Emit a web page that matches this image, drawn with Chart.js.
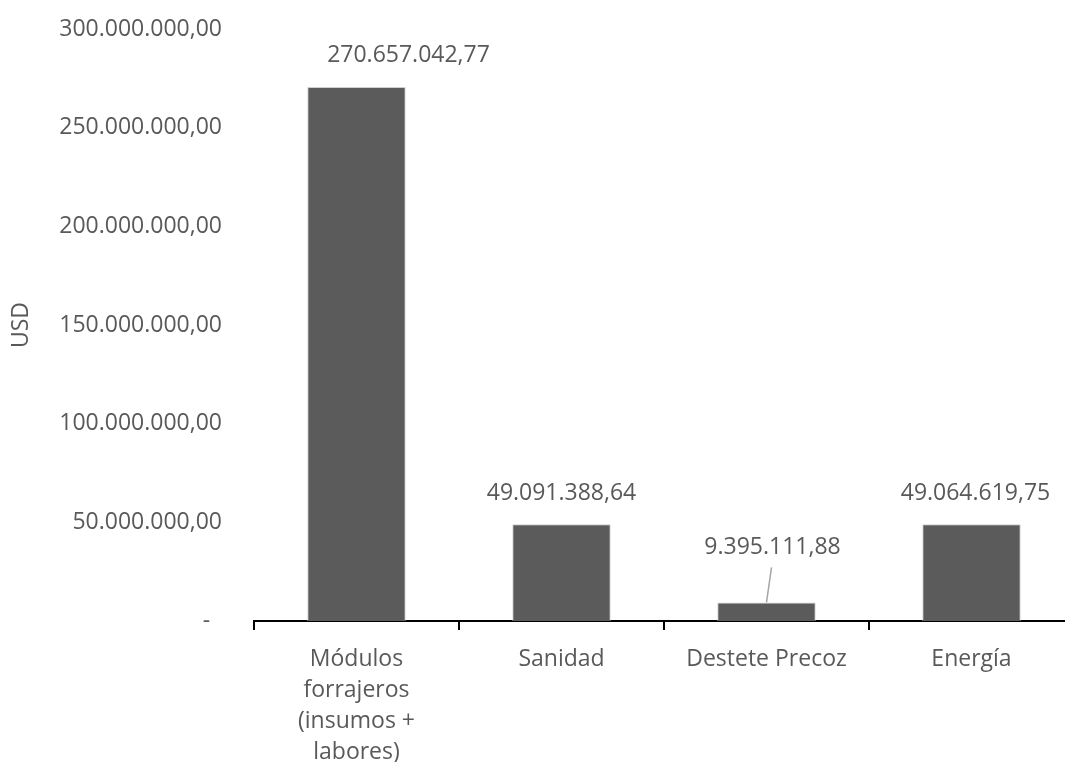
<!DOCTYPE html>
<html>
<head>
<meta charset="utf-8">
<script src="https://cdn.jsdelivr.net/npm/chart.js@4"></script>
<style>
  html, body { margin: 0; padding: 0; background: #fff; overflow: hidden; }
  #wrap { width: 1075px; height: 762px; }
</style>
</head>
<body>
<div id="wrap"><canvas id="costChart"></canvas></div>
<script>
// categories and values (USD)
const categories = [
    ['Módulos', 'forrajeros', '(insumos +', 'labores)'],
    'Sanidad',
    'Destete Precoz',
    'Energía'
];
const costs = [270657042.77, 49091388.64, 9395111.88, 49064619.75];
const yTicks = [0, 50000000, 100000000, 150000000, 200000000, 250000000, 300000000];

const textColor = '#595959';
const fontFamily = '"Open Sans", sans-serif';

// 1.234.567,89 style
function fmt(v) {
    const parts = v.toFixed(2).split('.');
    const intPart = parts[0].replace(/\B(?=(\d{3})+(?!\d))/g, '.');
    return intPart + ',' + parts[1];
}

// label placement tweaks, dx / dy in px (Excel had some labels moved by hand)
const labelNudge = [
    { dx: 52, dy: 0 },
    { dx: 0, dy: 0 },
    { dx: 6, dy: -24, leader: true },
    { dx: 4, dy: 0 }
];

const valueLabels = {
    id: 'valueLabels',
    afterDatasetsDraw(chart) {
        const ctx = chart.ctx;
        const meta = chart.getDatasetMeta(0);
        ctx.save();
        ctx.font = '23px ' + fontFamily;
        ctx.fillStyle = textColor;
        ctx.textAlign = 'center';
        ctx.textBaseline = 'middle';
        meta.data.forEach((bar, i) => {
            const n = labelNudge[i];
            const x = bar.x + n.dx;
            const y = bar.y - 31 + n.dy;
            ctx.fillText(fmt(costs[i]), x, y);
            if (n.leader) {
                ctx.strokeStyle = '#a6a6a6';
                ctx.lineWidth = 1.5;
                ctx.beginPath();
                ctx.moveTo(x - 1, y + 20);
                ctx.lineTo(bar.x, bar.y);
                ctx.stroke();
            }
        });
        ctx.restore();
    }
};

new Chart(document.getElementById('costChart'), {
    type: 'bar',
    data: {
        labels: categories,
        datasets: [{
            label: 'USD',
            data: costs,
            backgroundColor: '#5b5b5b',
            borderColor: '#cfcfcf',
            borderWidth: 1,
            categoryPercentage: 1,
            barPercentage: 0.48
        }]
    },
    options: {
        responsive: true,
        maintainAspectRatio: false,
        animation: false,
        layout: { padding: { top: 29, right: 1, left: 0, bottom: 0 } },
        plugins: { legend: { display: false }, tooltip: { enabled: false } },
        scales: {
            x: {
                grid: { display: true, drawOnChartArea: false, offset: true, color: '#000', lineWidth: 2, tickLength: 9 },
                border: { display: true, color: '#000', width: 2 },
                ticks: { color: textColor, font: { family: fontFamily, size: 23, lineHeight: 1.35 }, padding: 14, maxRotation: 0, autoSkip: false },
                afterFit: s => { s.height = 141; }
            },
            y: {
                min: 0,
                max: 300000000,
                afterBuildTicks: s => { s.ticks = yTicks.map(v => ({ value: v })); },
                grid: { display: false, drawTicks: false },
                border: { display: false },
                title: { display: true, text: 'USD', color: textColor, font: { family: fontFamily, size: 23 }, padding: { top: 8, bottom: 0 } },
                ticks: {
                    color: textColor,
                    font: { family: fontFamily, size: 23 },
                    padding: 32,
                    callback: v => v === 0 ? '-  ' : fmt(v)
                },
                afterFit: s => {
                    s.width = 254;
                    s.paddingTop = 0;
                    s.paddingBottom = 0;
                }
            }
        }
    },
    plugins: [valueLabels]
});
</script>
</body>
</html>
